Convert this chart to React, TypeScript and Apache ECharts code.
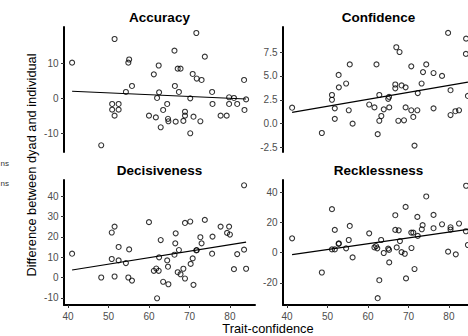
import React, { useEffect, useRef } from "react";
import * as echarts from "echarts";

// Panel titles
const panelTitles = ["Accuracy", "Confidence", "Decisiveness", "Recklessness"];

// [trait-confidence, difference] pairs
const accuracyPoints: [number, number][] = [
  [41.0, 10.1], [48.2, -13.3], [51.5, 16.8], [50.9, -1.6], [52.5, -1.6], [50.9, -3.2],
  [52.5, -3.2], [51.5, -4.9], [54.3, 1.8], [55.1, 11.0], [54.9, 10.1], [55.8, 3.5],
  [60.0, -4.9], [61.2, 6.8], [62.4, 9.3], [61.7, -5.4], [62.0, 0.1], [62.5, 1.7],
  [62.9, -8.2], [63.5, -3.3], [64.5, -1.6], [64.7, -5.8], [64.8, -6.5], [66.3, 13.5],
  [66.4, 3.5], [67.1, 8.4], [67.8, 8.4], [67.4, 1.8], [66.6, -6.6], [68.5, -6.4],
  [68.9, -3.8], [68.9, -4.9], [70.2, 0.0], [70.2, -9.9], [70.8, 6.9], [71.7, 18.5],
  [71.8, 5.6], [73.0, 5.2], [71.0, -5.2], [72.7, -6.5], [73.8, 11.8], [75.6, 1.8],
  [75.7, -1.6], [77.7, -4.9], [79.2, -4.9], [79.8, 0.3], [81.0, 0.1], [79.8, -1.6],
  [81.8, -1.6], [83.5, 5.2], [84.0, -0.3], [83.6, -3.3],
];

const confidencePoints: [number, number][] = [
  [41.25, 1.67], [48.6, -0.98], [51.1, 3.0], [51.1, 2.5], [51.8, 1.6], [51.8, 0.5],
  [52.75, 5.1], [52.8, 3.8], [54.6, 4.2], [55.25, 1.4], [55.5, 6.2], [56.2, 0.0],
  [60.3, 2.0], [61.6, 1.7], [62.1, 6.2], [62.4, -1.1], [62.8, 3.0], [62.8, 0.3],
  [63.3, 0.8], [63.9, 1.5], [65.0, 2.6], [65.2, 2.8], [65.25, 1.7], [66.75, 3.7],
  [66.75, 4.1], [67.0, 8.0], [67.8, 7.5], [67.5, 0.3], [68.3, 4.0], [68.9, 0.35],
  [69.3, 3.8], [69.3, 1.7], [70.7, 6.0], [70.7, 1.4], [71.2, 0.7], [71.5, -2.3],
  [72.2, 1.4], [72.3, 3.2], [73.25, 4.2], [73.6, 5.4], [74.4, 6.2], [76.2, 5.3],
  [76.2, 1.6], [78.3, 5.0], [79.8, 9.5], [80.4, 3.5], [80.4, 0.9], [81.6, 1.3],
  [82.5, 1.4], [84.25, 8.9], [84.2, 7.3], [84.7, 2.9],
];

const decisivenessPoints: [number, number][] = [
  [41.0, 11.7], [48.2, 0.0], [50.8, 22.1], [51.5, 25.0], [50.8, 9.1], [51.5, 0.5],
  [52.5, 15.0], [52.5, 8.4], [54.3, 7.1], [55.1, 13.8], [54.9, 0.0], [55.8, -1.5],
  [60.0, 27.2], [61.2, 3.3], [61.8, 4.4], [62.4, 3.3], [62.0, -10.2], [62.5, 9.9],
  [62.9, 18.4], [63.5, -2.1], [64.5, 8.4], [64.7, 5.3], [64.8, -3.3], [66.6, 21.7],
  [66.5, 16.8], [66.3, 11.2], [67.4, 13.5], [67.1, 2.6], [67.8, 1.6], [68.5, 4.3],
  [68.9, 26.8], [68.9, -0.5], [70.2, 27.5], [70.3, 6.7], [70.8, 9.4], [71.0, -3.6],
  [71.7, 13.3], [71.8, 13.5], [72.7, 19.8], [73.0, 16.8], [73.8, 28.3], [75.7, 20.1],
  [75.6, 11.7], [77.7, 25.0], [79.3, 21.9], [79.8, 25.0], [80.0, 21.1], [81.0, 4.1],
  [81.8, 11.5], [83.5, 45.3], [83.5, 13.7], [84.0, 4.3],
];

const recklessnessPoints: [number, number][] = [
  [41.25, 9.5], [48.6, -13.1], [51.1, 28.8], [51.1, 2.2], [51.8, 15.1], [51.8, 2.2],
  [52.75, 5.8], [52.8, 6.2], [54.6, 2.9], [55.25, 8.4], [55.5, 17.7], [56.2, -3.1],
  [60.3, 12.8], [61.6, 3.5], [62.0, 4.4], [62.3, 2.9], [62.8, -18.2], [62.4, -30.1],
  [63.25, 8.4], [63.9, -0.2], [65.0, 2.7], [65.2, 1.8], [65.25, -6.4], [66.75, 24.8],
  [66.75, 15.1], [67.6, 14.8], [67.1, 3.5], [67.9, 7.7], [68.3, 0.4], [69.1, -0.7],
  [69.3, 30.3], [69.4, -17.0], [70.7, 13.3], [71.2, 13.3], [70.75, 3.1], [71.5, -10.8],
  [72.2, 23.7], [72.3, 11.1], [73.3, 15.5], [73.5, 18.2], [74.4, 37.2], [76.2, 25.0],
  [76.2, 16.2], [78.3, 18.8], [79.8, 0.7], [80.4, 16.8], [80.4, 15.3], [81.7, -1.1],
  [82.5, 19.3], [84.25, 44.3], [84.2, 14.2], [84.7, 5.1],
];

// Axis ranges and tick labels
const xRange: [number, number] = [39, 86.2];
const xTicks = [40, 50, 60, 70, 80];
const yRanges: [number, number][] = [[-15.2, 20.2], [-2.97, 10.12], [-13.5, 47.9], [-34.6, 48.1]];
const yTicks: number[][] = [[-10, 0, 10], [-2.5, 0, 2.5, 5, 7.5], [-10, 0, 10, 20, 30, 40], [-20, 0, 20, 40]];
const yDecimals = [0, 1, 0, 0];

const xTitle = "Trait-confidence";
const yTitle = "Difference between dyad and individual";
const legendFragments = ["ns", "ns"];

function fitLine(pts: [number, number][]): [number, number][] {
  const n = pts.length;
  let sx = 0, sy = 0, sxx = 0, sxy = 0;
  let mn = Infinity, mx = -Infinity;
  for (const [x, y] of pts) {
    sx += x; sy += y; sxx += x * x; sxy += x * y;
    mn = Math.min(mn, x); mx = Math.max(mx, x);
  }
  const b = (n * sxy - sx * sy) / (n * sxx - sx * sx);
  const a = (sy - b * sx) / n;
  return [[mn, a + b * mn], [mx, a + b * mx]];
}

export default function App() {
  const ref = useRef<HTMLDivElement>(null);
  useEffect(() => {
    if (!ref.current) return;
    const chart = echarts.init(ref.current, null, { renderer: "svg" });
    const allPoints = [accuracyPoints, confidencePoints, decisivenessPoints, recklessnessPoints];
    const grids = [
      { left: 64, top: 27, width: 191, height: 125 },
      { left: 283, top: 27, width: 191, height: 125 },
      { left: 64, top: 180, width: 191, height: 125 },
      { left: 283, top: 180, width: 191, height: 125 },
    ];
    const font = '"Liberation Sans", Arial, sans-serif';
    const xAxes = grids.map((_, i) => {
      const bottom = i >= 2;
      return {
        type: "value",
        gridIndex: i,
        min: xRange[0],
        max: xRange[1],
        splitLine: { show: false },
        axisLine: { show: bottom, onZero: false, lineStyle: { color: "#000", width: 2 } },
        axisTick: { show: bottom, length: 3, customValues: xTicks, lineStyle: { color: "#333", width: 1 } },
        axisLabel: {
          show: bottom,
          customValues: xTicks,
          margin: 6,
          color: "#4D4D4D",
          fontSize: 10,
          fontFamily: font,
        },
      };
    });
    const yAxes = grids.map((_, i) => ({
      type: "value",
      gridIndex: i,
      min: yRanges[i][0],
      max: yRanges[i][1],
      splitLine: { show: false },
      axisLine: { show: true, onZero: false, lineStyle: { color: "#000", width: 2 } },
      axisTick: { show: true, length: 3, customValues: yTicks[i], lineStyle: { color: "#333", width: 1 } },
      axisLabel: {
        customValues: yTicks[i],
        margin: 5.5,
        color: "#4D4D4D",
        fontSize: 10,
        fontFamily: font,
        formatter: (v: number) => v.toFixed(yDecimals[i]),
      },
    }));
    const series: any[] = [];
    allPoints.forEach((pts, i) => {
      series.push({
        type: "scatter",
        xAxisIndex: i,
        yAxisIndex: i,
        data: pts,
        symbol: "circle",
        symbolSize: 5,
        itemStyle: { color: "transparent", borderColor: "#000", borderWidth: 1.1 },
        z: 3,
      });
      series.push({
        type: "line",
        xAxisIndex: i,
        yAxisIndex: i,
        data: fitLine(pts),
        symbol: "none",
        lineStyle: { color: "#000", width: 1.2 },
        z: 4,
      });
    });
    const titlePos = [[159.5, 17], [378.5, 17], [159.5, 170], [378.5, 170]];
    const graphic: any[] = panelTitles.map((t, i) => ({
      type: "text",
      x: titlePos[i][0],
      y: titlePos[i][1],
      style: {
        text: t,
        font: `bold 13.5px ${font}`,
        fill: "#000",
        textAlign: "center",
        textVerticalAlign: "middle",
        align: "center",
        verticalAlign: "middle",
      },
    }));
    graphic.push({
      type: "text",
      x: 268,
      y: 328,
      style: {
        text: xTitle,
        font: `12.8px ${font}`,
        fill: "#000",
        textAlign: "center",
        textVerticalAlign: "middle",
        align: "center",
        verticalAlign: "middle",
      },
    });
    graphic.push({
      type: "text",
      x: 31,
      y: 165,
      rotation: Math.PI / 2,
      style: {
        text: yTitle,
        font: `12.8px ${font}`,
        fill: "#000",
        textAlign: "center",
        textVerticalAlign: "middle",
        align: "center",
        verticalAlign: "middle",
      },
    });
    legendFragments.forEach((t, k) => {
      graphic.push({
        type: "text",
        x: 0.5,
        y: 163 + k * 20,
        style: {
          text: t,
          font: `8px ${font}`,
          fill: "#333",
          textAlign: "left",
          textVerticalAlign: "middle",
          align: "left",
          verticalAlign: "middle",
        },
      });
    });
    chart.setOption({
      animation: false,
      backgroundColor: "#fff",
      grid: grids,
      xAxis: xAxes,
      yAxis: yAxes,
      series,
      graphic,
    });
    return () => chart.dispose();
  }, []);
  return (
    <div style={{ position: "fixed", left: 0, top: 0, width: 468, height: 336, overflow: "hidden", background: "#fff" }}>
      <div ref={ref} style={{ width: 490, height: 336 }} />
    </div>
  );
}
